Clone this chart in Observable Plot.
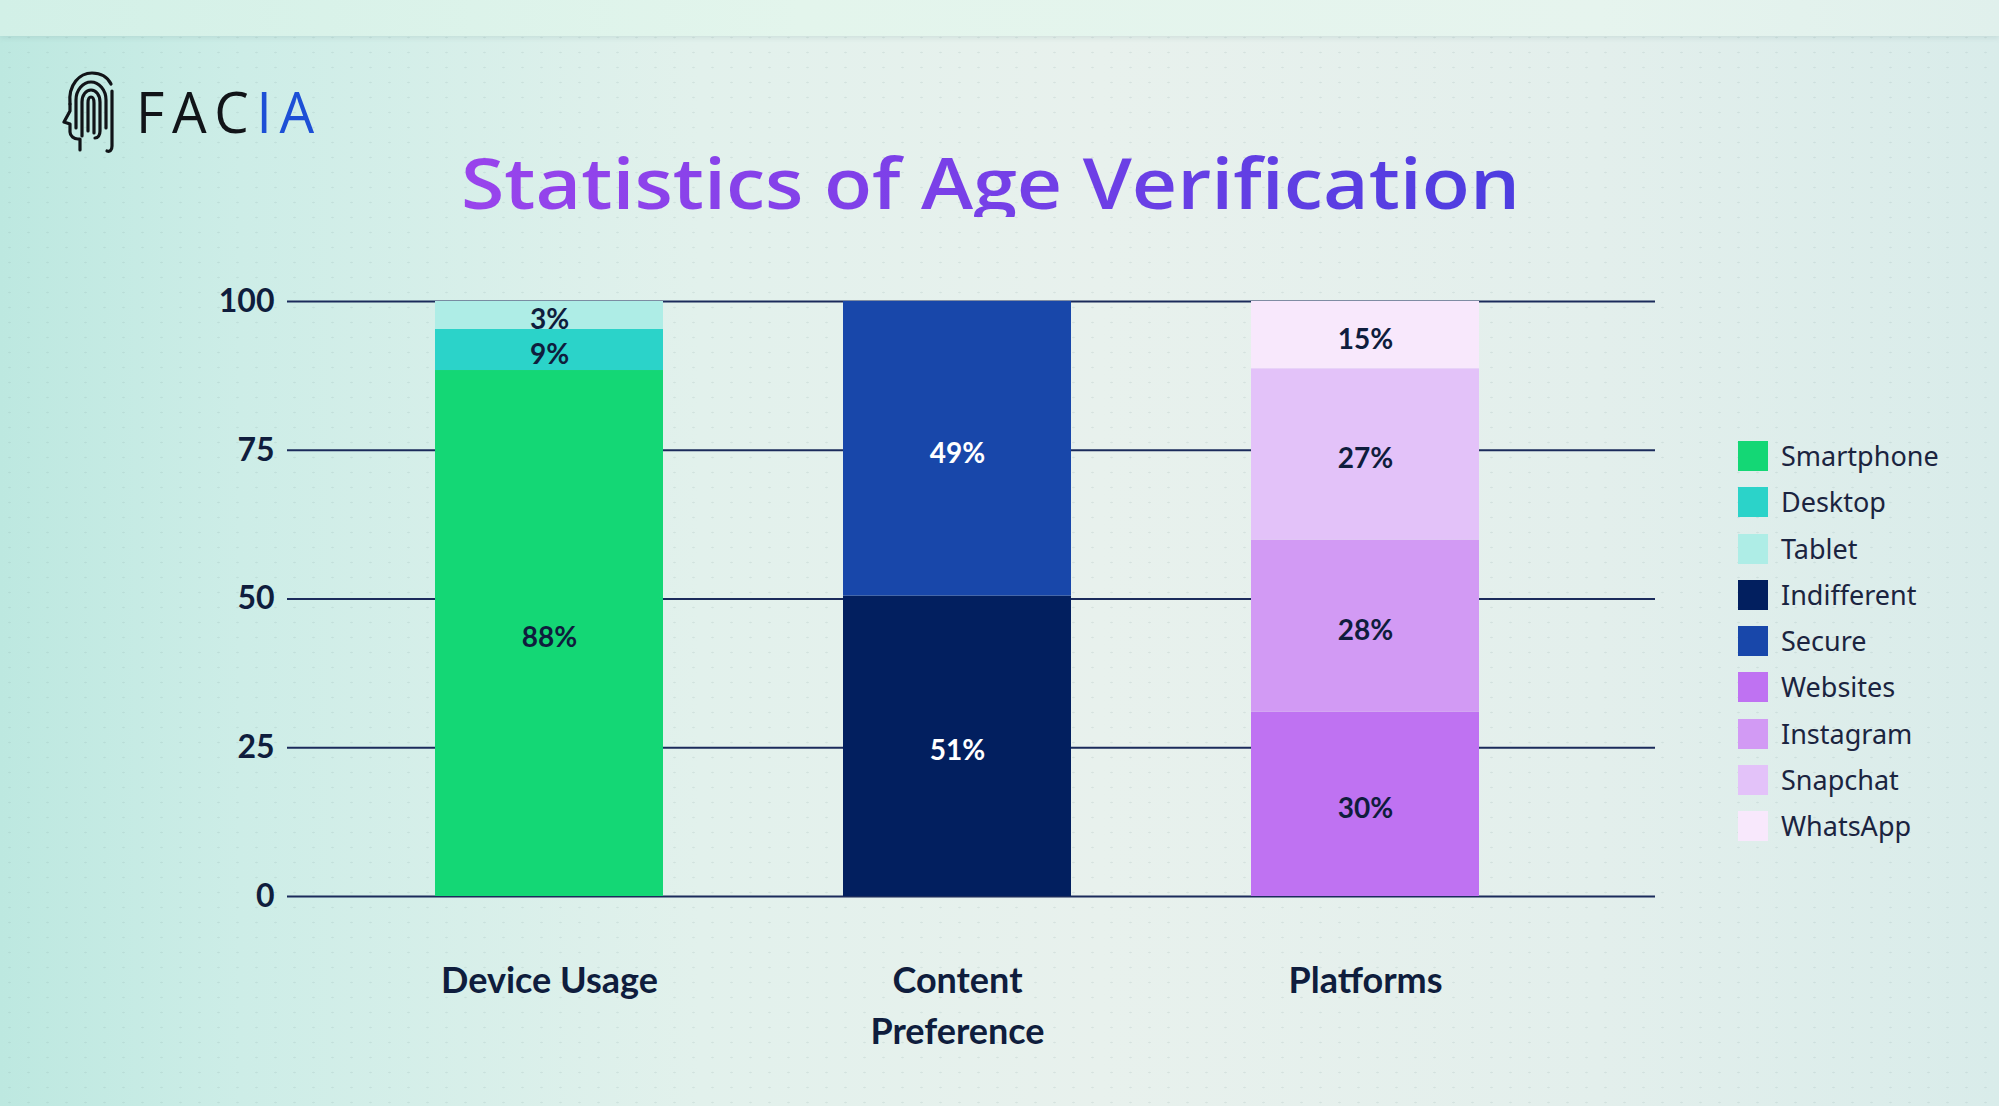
<!DOCTYPE html>
<html>
<head>
<meta charset="utf-8">
<script src="https://cdn.jsdelivr.net/npm/d3@7"></script>
<script src="https://cdn.jsdelivr.net/npm/@observablehq/plot@0.6"></script>
<style>
  html, body { margin: 0; padding: 0; width: 1999px; height: 1106px; overflow: hidden; }
  #page {
    position: relative; width: 1999px; height: 1106px; overflow: hidden;
    background: linear-gradient(90deg, #bde8e0 0%, #cdede7 12%, #e2f1ec 35%, #e8f1ed 55%, #e3efec 80%, #d9ecea 100%);
  }
  #texture {
    position: absolute; left: 0; top: 0; width: 100%; height: 100%;
    background-image: radial-gradient(rgba(120,150,150,0.16) 0.9px, transparent 1.4px);
    background-size: 19px 15px;
  }
  #topband {
    position: absolute; left: 0; top: 0; width: 100%; height: 36px;
    background: linear-gradient(90deg, #d2f0e7, #e3f5ec 40%, #e6f4ee 80%, #e0f0ec);
    box-shadow: 0 2px 5px rgba(110,150,150,0.18);
  }
  #chart { position: absolute; left: 0; top: 0; }
  #logo-icon { position: absolute; left: 62px; top: 70px; }
  #logo-text {
    position: absolute; left: 136px; top: 83px; white-space: nowrap;
    font-family: "Open Sans", sans-serif; font-weight: 400; font-size: 57px; line-height: 57px;
    letter-spacing: 8px; transform-origin: 0 0;
  }
  #logo-text .a { color: #111418; }
  #logo-text .b { color: #1d4fd6; }
  #title {
    position: absolute; left: 461px; top: 147px; white-space: nowrap;
    font-family: "Open Sans", sans-serif; font-weight: 600; font-size: 70px; line-height: 70px;
    background: linear-gradient(90deg, #9944ec 0%, #7a40e8 45%, #4d3de0 100%);
    -webkit-background-clip: text; background-clip: text; color: transparent;
    transform-origin: 0 0;
  }
  #legend { position: absolute; left: 1738px; top: 441px; width: 250px; }
  #legend .lg-swatches { margin: 0 !important; min-height: 0 !important; width: 250px; }
  #legend .lg-swatch { padding-bottom: 16.25px !important; line-height: 30px; align-items: center; overflow: visible !important; }
  #legend .lg-swatch svg { margin-right: 13px !important; }
  #legend .lg-swatch > div, #legend .lg-swatch-label {
    overflow: visible !important; text-overflow: clip !important; white-space: nowrap !important;
  }
</style>
</head>
<body>
<div id="page">
  <div id="texture"></div>
  <div id="topband"></div>
  <div id="chart"></div>
  <svg id="logo-icon" width="54" height="84" viewBox="0 0 54 84" fill="none" stroke="#111418" stroke-width="3.2" stroke-linecap="round" stroke-linejoin="round">
    <path d="M8,34 C6,14 18,3 30,3 C40,3 46,8 49,14"/>
    <path d="M50,21 L50,76 C50,80 48,82 45,81"/>
    <path d="M8,34 L8,41 L2,52 L8,54 L8,62 C8,66 12,69 16,69 L18,69 L18,80"/>
    <path d="M14,58 L14,30 C14,20 21,12 29,12 C37,12 44,20 44,30 L44,58"/>
    <path d="M20,66 L20,32 C20,25 24,20 29,20 C34,20 38,25 38,32 L38,61 C38,65 36,68 33,68"/>
    <path d="M26,61 L26,33 C26,29 27,27 29,27 C31,27 32,29 32,33 L32,63"/>
  </svg>
  <div id="logo-text"><span class="a">FAC</span><span class="b">IA</span></div>
  <div id="title">Statistics of Age Verification</div>
  <div id="legend"></div>
</div>
<script>
// ---- data ----
const categories = ["Device Usage", "Content Preference", "Platforms"];
const categoryTickLabels = ["Device Usage", "Content\nPreference", "Platforms"];

const deviceSegments = ["Smartphone", "Desktop", "Tablet"];
const deviceShares = [88.4, 6.9, 4.7];
const deviceLabels = ["88%", "9%", "3%"];

const contentSegments = ["Indifferent", "Secure"];
const contentShares = [50.5, 49.5];
const contentLabels = ["51%", "49%"];

const platformSegments = ["Websites", "Instagram", "Snapchat", "WhatsApp"];
const platformShares = [31.0, 28.9, 28.8, 11.3];
const platformLabels = ["30%", "28%", "27%", "15%"];

const segmentColors = ["#14d775", "#2bd3c9", "#aeede6", "#021f5f", "#1847aa", "#bf72f2", "#d29af4", "#e3c2f9", "#f8e8fc"];
const whiteLabelSegments = ["Indifferent", "Secure"];
const yTicks = [0, 25, 50, 75, 100];

// ---- table built from the arrays ----
const rows = [];
function addGroup(category, segments, shares, labels) {
  segments.forEach((s, i) => rows.push({category, segment: s, share: shares[i], label: labels[i]}));
}
addGroup(categories[0], deviceSegments, deviceShares, deviceLabels);
addGroup(categories[1], contentSegments, contentShares, contentLabels);
addGroup(categories[2], platformSegments, platformShares, platformLabels);
const allSegments = [...deviceSegments, ...contentSegments, ...platformSegments];

const ink = "#0f1d3d";
const labelFont = "Lato, 'Open Sans', sans-serif";

const chart = Plot.plot({
  width: 1999,
  height: 1106,
  marginLeft: 287,
  marginRight: 344,
  marginTop: 301,
  marginBottom: 210,
  style: {background: "transparent", overflow: "visible", fontFamily: labelFont},
  x: {domain: categories, paddingInner: 0.441, paddingOuter: 0.2205, insetLeft: 58, insetRight: 86},
  y: {domain: [0, 100]},
  color: {domain: allSegments, range: segmentColors},
  marks: [
    Plot.ruleY(yTicks, {stroke: "#1b2b5b", strokeWidth: 2}),
    Plot.barY(rows, {x: "category", y: "share", fill: "segment"}),
    Plot.text(rows, Plot.stackY({
      x: "category", y: "share",
      text: d => whiteLabelSegments.includes(d.segment) ? null : d.label,
      fill: ink, fontSize: 28, fontWeight: 700, fontFamily: labelFont, dy: 5
    })),
    Plot.text(rows, Plot.stackY({
      x: "category", y: "share",
      text: d => whiteLabelSegments.includes(d.segment) ? d.label : null,
      fill: "#ffffff", fontSize: 28, fontWeight: 700, fontFamily: labelFont, dy: 5
    })),
    Plot.axisY({ticks: yTicks, tickSize: 0, tickPadding: 13, fontSize: 32, fontWeight: 700, color: ink, label: null}),
    Plot.axisX({
      tickSize: 0, tickPadding: 60, fontSize: 36, fontWeight: 700, lineHeight: 1.42, color: ink, label: null,
      tickFormat: d => categoryTickLabels[categories.indexOf(d)]
    })
  ]
});
document.getElementById("chart").appendChild(chart);

const legend = chart.legend("color", {
  columns: 1,
  swatchSize: 30,
  className: "lg",
  style: {fontSize: "27px", fontFamily: "'Noto Sans', sans-serif", color: "#1b2440"}
});
document.getElementById("legend").appendChild(legend);

// fit the decorative headline texts to the reference widths
function fitWidth(id, target) {
  const el = document.getElementById(id);
  el.style.display = "inline-block";
  const w = el.getBoundingClientRect().width;
  if (w > 0) el.style.transform = `scaleX(${target / w})`;
}
fitWidth("title", 1059);
fitWidth("logo-text", 186);
</script>
</body>
</html>
